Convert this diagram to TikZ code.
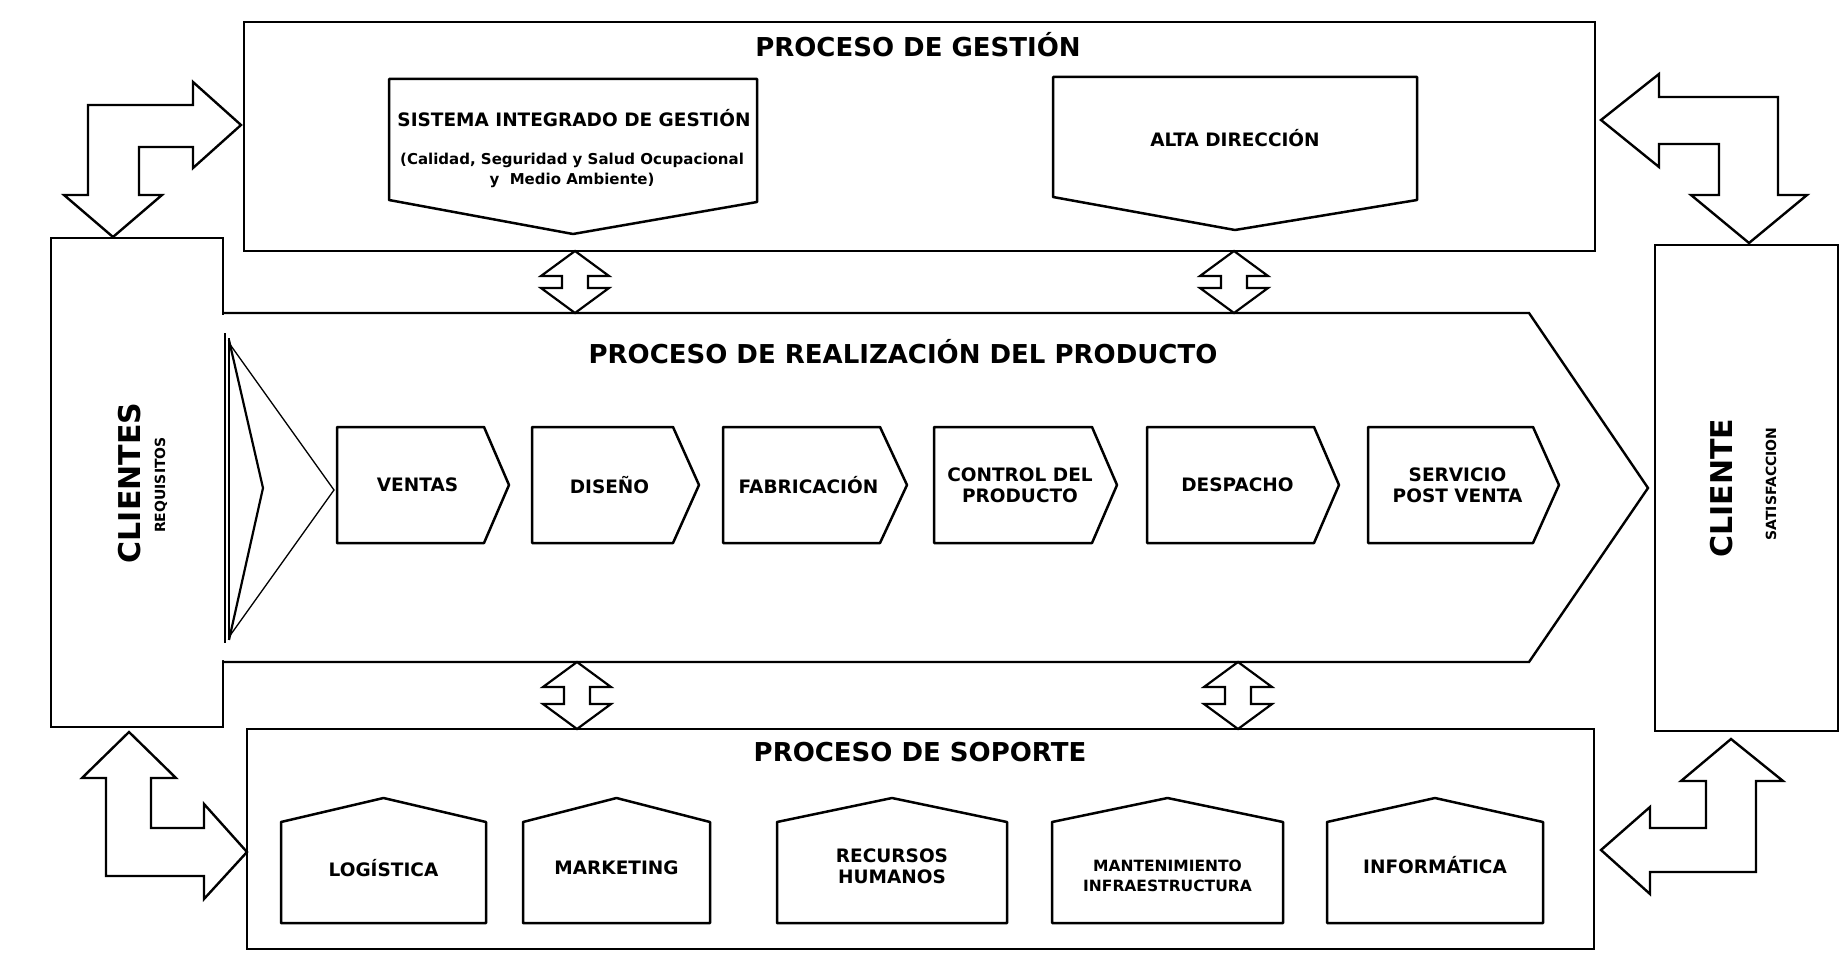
\documentclass[tikz,border=0pt]{standalone}
\usepackage{fontspec}
\setmainfont{DejaVu Sans}
\tikzset{
  frame/.style={draw=black, line width=2.8pt, fill=white},
  shp/.style={draw=black, line width=2.5pt, fill=white, line join=round},
  barrow/.style={draw=black, line width=2.4pt, fill=white, line join=miter},
  sarrow/.style={draw=black, line width=2.2pt, fill=white, line join=miter},
  thinln/.style={draw=black, line width=1.3pt},
  lbl/.style={font=\bfseries\fontsize{18.5}{21}\selectfont, align=center, inner sep=0pt},
  ttl/.style={font=\bfseries\fontsize{26}{30}\selectfont, inner sep=0pt},
  smalllbl/.style={font=\bfseries\fontsize{15}{20}\selectfont, align=center, inner sep=0pt},
  midlbl/.style={font=\bfseries\fontsize{15.5}{20}\selectfont, align=center, inner sep=0pt},
  biglbl/.style={font=\bfseries\fontsize{30}{34}\selectfont, inner sep=0pt, rotate=90},
  sidelbl/.style={font=\bfseries\fontsize{14}{16}\selectfont, inner sep=0pt, rotate=90},
}
\newcommand{\udarrow}[3]{%
  \draw[sarrow] (#1,#2) -- ++(34,25) -- ++(-21,0) -- (#1+13,#3-25) -- ++(21,0) -- (#1,#3)
    -- ++(-34,-25) -- ++(21,0) -- (#1-13,#2+25) -- ++(-21,0) -- cycle;}
\newcommand{\chev}[5]{%
  \draw[shp] (#2,427) -- (#3,427) -- (#4,485) -- (#3,543) -- (#2,543) -- cycle;
  \node[lbl] (#1) at ({(#2+#3)/2+7},485) {#5};}
\newcommand{\house}[5]{%
  \draw[shp] (#2,923) -- (#2,822) -- ({(#2+#3)/2},798) -- (#3,822) -- (#3,923) -- cycle;
  \node[lbl] (#1) at ({(#2+#3)/2},#4) {#5};}
\begin{document}
\begin{tikzpicture}[x=1pt,y=-1pt]
\useasboundingbox[fill=white] (0,0) rectangle (1846,971);

% main frames
\draw[frame] (244,22) rectangle (1595,251);
\draw[frame] (247,729) rectangle (1594,949);
\draw[frame] (51,238) rectangle (223,727);
\draw[frame] (1655,245) rectangle (1838,731);

% realizacion pentagon (open on the left)
\fill[white] (220,315) -- (1529,315) -- (1646,488) -- (1529,660) -- (220,660) -- cycle;
\draw[line width=2.4pt, line join=miter] (223,313) -- (1529,313) -- (1648,488) -- (1529,662) -- (223,662);

% fan at left of realizacion
\draw[thinln] (225,333) -- (225,643);
\draw[thinln] (229,338) -- (229,640);
\draw[thinln] (229,343) -- (334,490) -- (229,637);
\draw[line width=2.2pt] (229,340) -- (263,488) -- (229,640);

% process chevrons
\chev{ventas}{337}{484}{509}{VENTAS}
\chev{diseno}{532}{673}{699}{DISEÑO}
\chev{fabric}{723}{880}{907}{FABRICACIÓN}
\chev{control}{934}{1092}{1117}{CONTROL DEL\\PRODUCTO}
\chev{despacho}{1147}{1314}{1339}{DESPACHO}
\chev{servicio}{1368}{1533}{1559}{SERVICIO\\POST VENTA}

% small double arrows
\udarrow{575}{251}{313}
\udarrow{1234}{251}{313}
\udarrow{577}{662}{729}
\udarrow{1238}{662}{729}

% bent block arrows
\draw[barrow] (241,125) -- (193,82) -- (193,105) -- (88,105) -- (88,195) -- (64,195) -- (113,237)
  -- (162,195) -- (139,195) -- (139,147) -- (193,147) -- (193,168) -- cycle;
\draw[barrow] (1601,120) -- (1659,74) -- (1659,97) -- (1778,97) -- (1778,195) -- (1807,195) -- (1749,243)
  -- (1691,195) -- (1719,195) -- (1719,144) -- (1659,144) -- (1659,167) -- cycle;
\draw[barrow] (129,732) -- (176,778) -- (151,778) -- (151,828) -- (204,828) -- (204,804) -- (247,852)
  -- (204,899) -- (204,876) -- (106,876) -- (106,778) -- (82,778) -- cycle;
\draw[barrow] (1731,739) -- (1783,781) -- (1756,781) -- (1756,872) -- (1650,872) -- (1650,894) -- (1601,850)
  -- (1650,807) -- (1650,828) -- (1706,828) -- (1706,781) -- (1681,781) -- cycle;

% gestion inner shapes
\draw[shp] (389,79) -- (757,79) -- (757,202) -- (573,234) -- (389,200) -- cycle;
\draw[shp] (1053,77) -- (1417,77) -- (1417,200) -- (1235,230) -- (1053,197) -- cycle;
\node[lbl] (sig) at (574,118) {SISTEMA INTEGRADO DE GESTIÓN};
\node[smalllbl] (sigsub) at (572,170) {(Calidad, Seguridad y Salud Ocupacional\\y\ \ Medio Ambiente)};
\node[lbl] (alta) at (1235,138) {ALTA DIRECCIÓN};

% soporte houses
\house{logistica}{281}{486}{868}{LOGÍSTICA}
\house{marketing}{523}{710}{868}{MARKETING}
\house{rrhh}{777}{1007}{866}{RECURSOS\\HUMANOS}
\draw[shp] (1052,923) -- (1052,822) -- ({(1052+1283)/2},798) -- (1283,822) -- (1283,923) -- cycle;
\node[midlbl] (mant) at ({(1052+1283)/2},876) {MANTENIMIENTO\\INFRAESTRUCTURA};
\house{informatica}{1327}{1543}{865}{INFORMÁTICA}

% titles
\node[ttl] (tg) at (918,45) {PROCESO DE GESTIÓN};
\node[ttl] (tr) at (903,352) {PROCESO DE REALIZACIÓN DEL PRODUCTO};
\node[ttl] (ts) at (920,752) {PROCESO DE SOPORTE};

% side labels
\node[biglbl] (clientes) at (130,483) {CLIENTES};
\node[sidelbl] (req) at (161,485) {REQUISITOS};
\node[biglbl] (cliente) at (1722,488) {CLIENTE};
\node[sidelbl] (sat) at (1771,484) {SATISFACCION};
\end{tikzpicture}
\end{document}
